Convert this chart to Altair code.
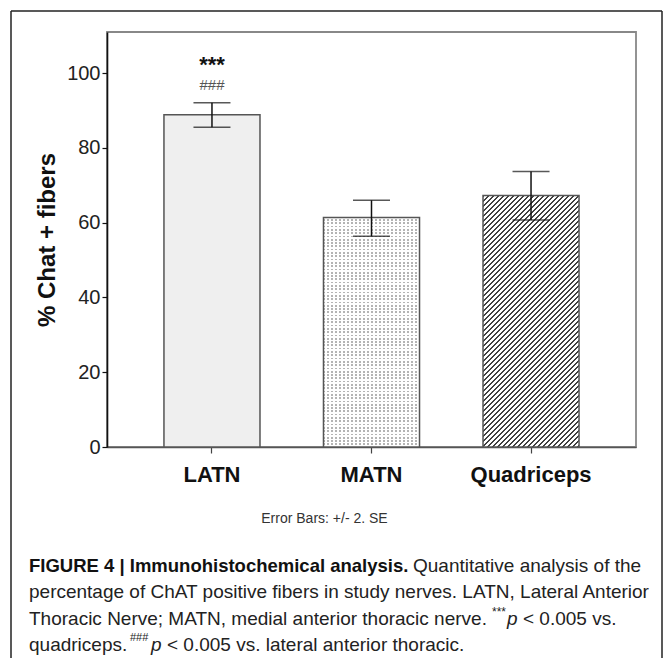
import altair as alt
import pandas as pd

# ---------------- data ----------------
categories = ["LATN", "MATN", "Quadriceps"]
means = [88.9, 61.4, 67.3]
err_low = [85.5, 56.4, 60.7]
err_high = [92.1, 66.0, 73.7]

y_ticks = [0, 20, 40, 60, 80, 100]
y_axis_title = "% Chat + fibers"
error_note = "Error Bars: +/- 2. SE"
sig_marks = ["***", "###"]

caption_bold = "FIGURE 4 | Immunohistochemical analysis."
caption_line1_rest = "Quantitative analysis of the"
caption_line2 = "percentage of ChAT positive fibers in study nerves. LATN, Lateral Anterior"
caption_line3 = "Thoracic Nerve; MATN, medial anterior thoracic nerve."
caption_line3_end = "< 0.005 vs."
caption_line4 = "quadriceps."
caption_line4_end = "< 0.005 vs. lateral anterior thoracic."

# ---------------- layout / style ----------------
W, H = 529, 415
Y_MAX = 111
P_IN, P_OUT = 0.398, 0.357
FONT = "Liberation Sans"

step = W / (3 - P_IN + 2 * P_OUT)
bw = step * (1 - P_IN)


def stripe_stops(period, duty, c_on, c_off):
    stops = []
    t = 0.0
    while t < 1.0:
        a = min(t + period * duty, 1.0)
        b = min(t + period, 1.0)
        stops += [
            {"offset": round(t, 5), "color": c_on},
            {"offset": round(a, 5), "color": c_on},
            {"offset": round(a, 5), "color": c_off},
            {"offset": round(b, 5), "color": c_off},
        ]
        t += period
    return stops


h_q = means[2] / Y_MAX * H
h_m = means[1] / Y_MAX * H
den = h_q ** 2 + bw ** 2
hatch = {
    "gradient": "linear",
    "x1": 0, "y1": 0,
    "x2": bw * (bw + h_q) / den, "y2": h_q * (bw + h_q) / den,
    "stops": stripe_stops(5.0 / (bw + h_q), 0.5, "#404040", "#ffffff"),
}
dots_v = {
    "gradient": "linear", "x1": 0, "y1": 0, "x2": 1, "y2": 0,
    "stops": stripe_stops(4.0 / bw, 0.28, "#b4b4b4", "#ffffff"),
}
dots_h = {
    "gradient": "linear", "x1": 0, "y1": 0, "x2": 0, "y2": 1,
    "stops": stripe_stops(3.3 / h_m, 0.5, "#ffffff", "rgba(255,255,255,0)"),
}

df = pd.DataFrame({"cat": categories, "mean": means, "lo": err_low, "hi": err_high})
one = pd.DataFrame({"k": [0]})

x_enc = alt.X(
    "cat:N", sort=categories, title=None,
    scale=alt.Scale(paddingInner=P_IN, paddingOuter=P_OUT),
    axis=alt.Axis(labelFont=FONT, labelFontWeight="bold", labelFontSize=22,
                  labelColor="#111", labelAngle=0, labelPadding=11,
                  tickSize=6, tickColor="#444", tickWidth=1.2,
                  domainColor="#555", domainWidth=1.6),
)
y_enc = alt.Y(
    "mean:Q", title=y_axis_title,
    scale=alt.Scale(domain=[0, Y_MAX], nice=False),
    axis=alt.Axis(values=y_ticks, grid=False, labelFont=FONT, labelFontSize=20,
                  labelColor="#222", labelPadding=2, tickSize=5, tickColor="#111",
                  tickWidth=1.2, domainColor="#111", domainWidth=1.6,
                  titleFont=FONT, titleFontWeight="bold", titleFontSize=24,
                  titleColor="#111", titlePadding=7),
)

base = alt.Chart(df).encode(x=x_enc)

bar_latn = base.transform_filter(alt.datum.cat == categories[0]).mark_bar(
    fill="#efefef").encode(y=y_enc)
bar_matn = base.transform_filter(alt.datum.cat == categories[1]).mark_bar(
    fill=dots_v).encode(y=y_enc)
bar_matn2 = base.transform_filter(alt.datum.cat == categories[1]).mark_bar(
    fill=dots_h).encode(y=y_enc)
bar_quad = base.transform_filter(alt.datum.cat == categories[2]).mark_bar(
    fill=hatch).encode(y=y_enc)
bar_stroke = base.mark_bar(fill="#ffffff", fillOpacity=0, stroke="#555555",
                           strokeWidth=1.5).encode(y=y_enc)

err_rule = base.mark_rule(color="#111", strokeWidth=1.5).encode(y="lo:Q", y2="hi:Q")
cap_lo = base.mark_tick(color="#111", size=37, thickness=1.5).encode(y="lo:Q")
cap_hi = base.mark_tick(color="#111", size=37, thickness=1.5).encode(y="hi:Q")

latn = base.transform_filter(alt.datum.cat == categories[0])
star = latn.mark_text(text=sig_marks[0], font=FONT, fontSize=22, fontWeight="bold",
                      color="#111", baseline="alphabetic", dy=-31).encode(y="hi:Q")
hash_ = latn.mark_text(text=sig_marks[1], font=FONT, fontSize=15, color="#555",
                       baseline="middle", dy=-18).encode(y="hi:Q")


def txt(s, x, y, size, weight="normal", style="normal", color="#222", align="left"):
    return alt.Chart(one).mark_text(
        text=s, font=FONT, fontSize=size, fontWeight=weight, fontStyle=style,
        color=color, align=align, baseline="middle",
    ).encode(x=alt.value(x), y=alt.value(y))


CS = 19
texts = [
    txt(error_note, 217.5, 487, 14, color="#333", align="center"),
    txt(caption_bold, -78, 534, 18.5, weight="bold", color="#111"),
    txt(caption_line1_rest, 306, 534, CS),
    txt(caption_line2, -78, 560, CS),
    txt(caption_line3, -78, 587, CS),
    txt(sig_marks[0], 385, 580, 12),
    txt("p", 400, 587, CS, style="italic"),
    txt(caption_line3_end, 416, 587, CS),
    txt(caption_line4, -78, 613, CS),
    txt(sig_marks[1], 23, 606, 11),
    txt("p", 44, 613, CS, style="italic"),
    txt(caption_line4_end, 60, 613, CS),
]


def rule(x, x2, y, y2):
    return alt.Chart(one).mark_rule(color="#222", strokeWidth=1.5).encode(
        x=alt.value(x), x2=alt.value(x2), y=alt.value(y), y2=alt.value(y2))


border = [
    rule(-96, 555, -21, -21),
    rule(-96, -96, -21, 640),
    rule(555, 555, -21, 640),
]

chart = alt.layer(
    bar_latn, bar_matn, bar_matn2, bar_quad, bar_stroke,
    err_rule, cap_lo, cap_hi, star, hash_, *texts, *border,
).properties(
    width=W, height=H,
    autosize=alt.AutoSizeParams(type="none"),
    padding={"left": 99, "top": 24, "right": 27, "bottom": 211},
).configure_view(stroke="#888888", strokeWidth=1.8)

chart.save("out.html", embed_options={"renderer": "svg", "actions": False})
